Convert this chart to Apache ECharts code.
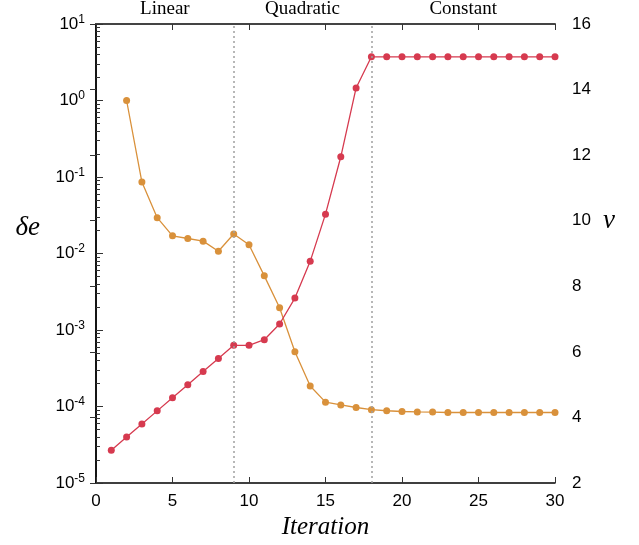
<!DOCTYPE html>
<html>
<head>
<meta charset="utf-8">
<script src="https://cdn.jsdelivr.net/npm/echarts@6/dist/echarts.min.js"></script>
<style>
  html, body { margin: 0; padding: 0; background: #fff; }
  #chart { width: 639px; height: 545px; }
</style>
</head>
<body>
<div id="chart"></div>
<script>
// iteration index
const iterations = [1, 2, 3, 4, 5, 6, 7, 8, 9, 10, 11, 12, 13, 14, 15,
  16, 17, 18, 19, 20, 21, 22, 23, 24, 25, 26, 27, 28, 29, 30];
// δe (left, log axis) - no value at iteration 1
const deltaE = [null, 1.0, 0.086, 0.0294, 0.017, 0.0157, 0.0145, 0.0107, 0.018, 0.013,
  0.0051, 0.00195, 5.2e-4, 1.85e-4, 1.14e-4, 1.05e-4, 9.7e-5, 9.1e-5, 8.8e-5, 8.6e-5,
  8.5e-5, 8.45e-5, 8.35e-5, 8.35e-5, 8.35e-5, 8.35e-5, 8.35e-5, 8.35e-5, 8.35e-5, 8.35e-5];
// ν (right, linear axis)
const nu = [3.0, 3.4, 3.8, 4.2, 4.6, 5.0, 5.4, 5.8, 6.2, 6.2,
  6.37, 6.85, 7.64, 8.76, 10.2, 11.95, 14.05, 15, 15, 15,
  15, 15, 15, 15, 15, 15, 15, 15, 15, 15];

const phaseNames = ['Linear', 'Quadratic', 'Constant'];
const phaseBounds = [0, 9, 18, 30];
const switchPoints = [9, 18];

const decades = [1e-5, 1e-4, 1e-3, 1e-2, 1e-1, 1e0, 1e1];
const minorTicks = [];
decades.slice(0, -1).forEach(d => {
  for (let k = 2; k <= 9; k++) minorTicks.push(d * k);
});

const red = '#d63a4f';
const orange = '#d9913b';
const sans = 'Liberation Sans';
const serif = 'Liberation Serif';
const axisNameStyle = { fontFamily: serif, fontStyle: 'italic', fontSize: 27, fill: '#000' };

const chart = echarts.init(document.getElementById('chart'));

chart.setOption({
  animation: false,
  grid: { left: 96, top: 24, right: 84, bottom: 62 },
  graphic: [
    // axis titles sit above the middle of the axes in the original
    { type: 'text', right: 599, top: 214, style: Object.assign({ text: 'δe' }, axisNameStyle) },
    { type: 'text', left: 603, top: 207, style: Object.assign({ text: 'ν' }, axisNameStyle) }
  ],
  xAxis: [
    {
      type: 'value', min: 0, max: 30, interval: 5,
      name: 'Iteration', nameLocation: 'middle', nameGap: 31,
      nameTextStyle: { fontFamily: serif, fontStyle: 'italic', fontSize: 25, color: '#000' },
      axisLine: { lineStyle: { color: '#000', width: 1.5 } },
      axisTick: { inside: true, length: 6, lineStyle: { color: '#333' } },
      axisLabel: { fontFamily: sans, fontSize: 17, color: '#000', margin: 10 },
      splitLine: { show: false }
    },
    {
      type: 'value', min: 0, max: 30, interval: 5, position: 'top',
      axisLine: { lineStyle: { color: '#444', width: 2 } },
      axisTick: { inside: true, length: 6, lineStyle: { color: '#333' } },
      axisLabel: { show: false },
      splitLine: { show: false }
    }
  ],
  yAxis: [
    {
      type: 'log', min: 1e-5, max: 10, logBase: 10,
      axisLine: { lineStyle: { color: '#555', width: 2 } },
      axisTick: { inside: true, length: 7, customValues: decades, lineStyle: { color: '#333' } },
      axisLabel: {
        customValues: decades,
        margin: 11,
        formatter: v => '{b|10}{s|' + Math.round(Math.log10(v)) + '}',
        rich: {
          b: { fontFamily: sans, fontSize: 17, color: '#000' },
          s: { fontFamily: sans, fontSize: 12, color: '#000', padding: [0, 0, 9, 0] }
        }
      },
      splitLine: { show: false }
    },
    {
      type: 'value', min: 2, max: 16, interval: 2, position: 'right',
      axisLine: { lineStyle: { color: '#000', width: 1.5 } },
      axisTick: { inside: true, length: 6, lineStyle: { color: '#333' } },
      axisLabel: { fontFamily: sans, fontSize: 17, color: '#000', margin: 17 },
      splitLine: { show: false }
    },
    {
      type: 'log', min: 1e-5, max: 10, logBase: 10, position: 'left', offset: 0,
      axisLine: { show: false },
      axisTick: { inside: true, length: 4, customValues: minorTicks, lineStyle: { color: '#333' } },
      axisLabel: { show: false },
      splitLine: { show: false }
    }
  ],
  series: [
    {
      name: 'δe', type: 'line', xAxisIndex: 0, yAxisIndex: 0,
      data: iterations.map((x, i) => deltaE[i] == null ? null : [x, deltaE[i]]).filter(Boolean),
      symbol: 'circle', symbolSize: 7,
      itemStyle: { color: orange },
      lineStyle: { color: orange, width: 1.3 },
      markLine: {
        silent: true, symbol: 'none',
        label: { show: false },
        lineStyle: { color: '#a0a0a0', type: [2, 3], width: 1.5 },
        data: switchPoints.map(v => ({ xAxis: v }))
      },
      markArea: {
        silent: true,
        itemStyle: { color: 'transparent' },
        label: { position: 'top', distance: 5, fontFamily: serif, fontSize: 19, color: '#000' },
        data: phaseNames.map((n, i) => [{ name: n, xAxis: phaseBounds[i] }, { xAxis: phaseBounds[i + 1] }])
      }
    },
    {
      name: 'ν', type: 'line', xAxisIndex: 0, yAxisIndex: 1,
      data: iterations.map((x, i) => [x, nu[i]]),
      symbol: 'circle', symbolSize: 7,
      itemStyle: { color: red },
      lineStyle: { color: red, width: 1.3 }
    }
  ]
});
</script>
</body>
</html>
